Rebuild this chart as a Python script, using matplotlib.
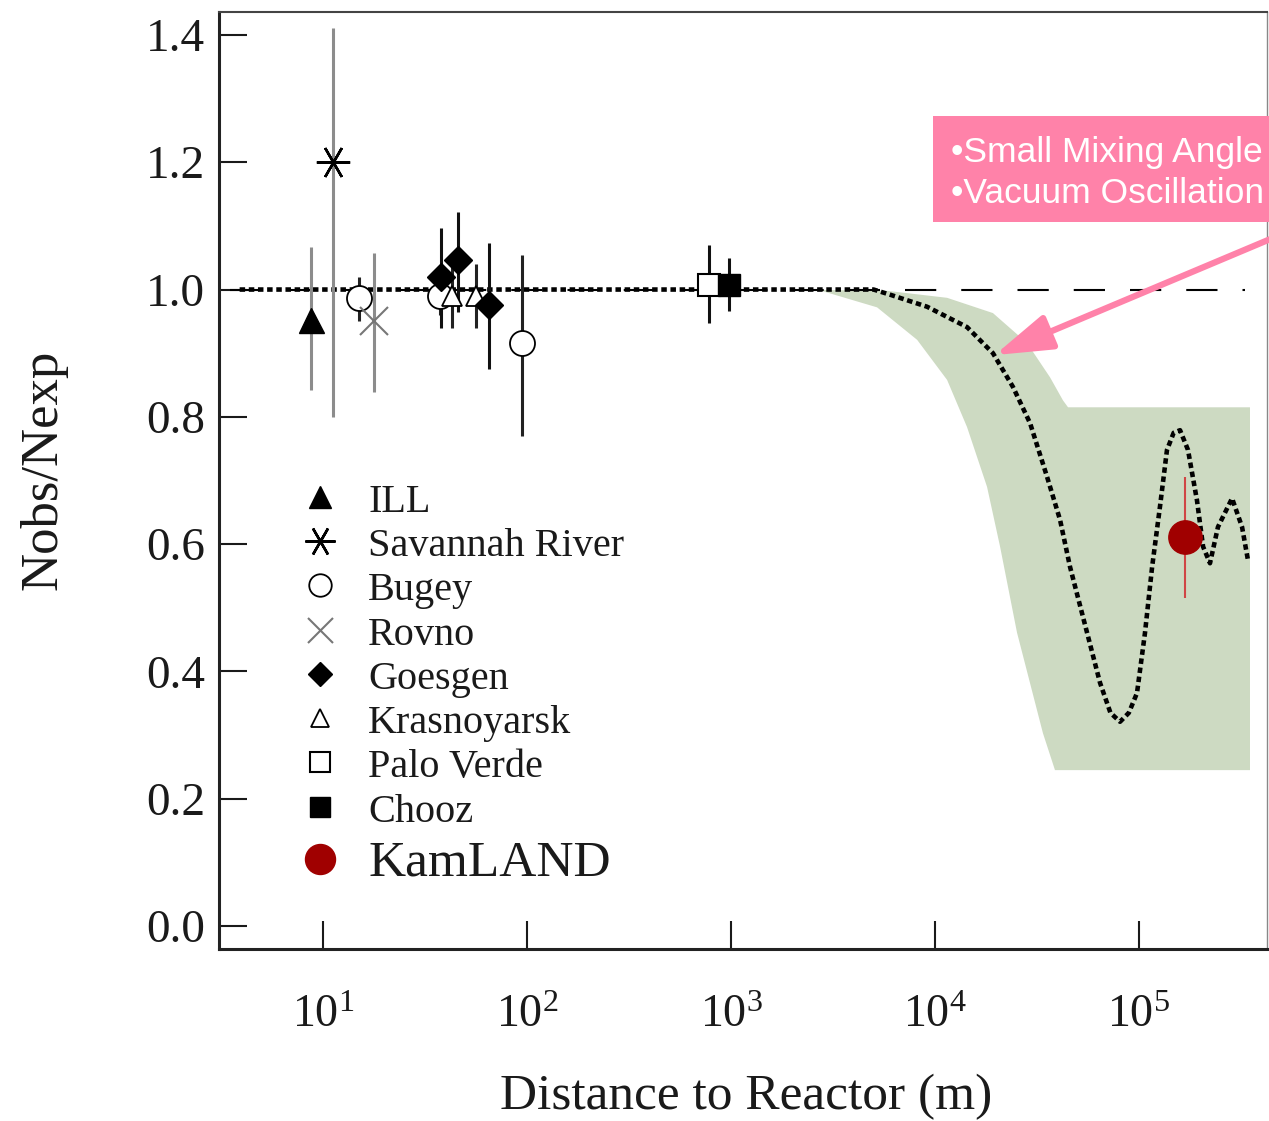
import numpy as np
import matplotlib
matplotlib.use("Agg")
import matplotlib.pyplot as plt
from matplotlib.patches import Rectangle

plt.rcParams["font.family"] = ["Liberation Serif", "DejaVu Serif"]
plt.rcParams["mathtext.fontset"] = "stix"

# reactor experiments: baseline (m), N_obs/N_exp, lower / upper error
pt_exp = ["ILL", "Savannah River", "Bugey", "Rovno", "Bugey", "Goesgen",
          "Krasnoyarsk", "Goesgen", "Krasnoyarsk", "Goesgen", "Bugey",
          "Palo Verde", "Chooz", "KamLAND"]
pt_dist = [8.7, 11.2, 15.0, 17.8, 37.5, 37.9, 42.9, 45.8, 56.0, 65.0, 94.0,
           780.0, 980.0, 168000.0]
pt_ratio = [0.952, 1.20, 0.987, 0.95, 0.99, 1.02, 0.99, 1.047, 0.99, 0.976,
            0.916, 1.007, 1.007, 0.611]
pt_err_lo = [0.110, 0.40, 0.037, 0.111, 0.03, 0.080, 0.05, 0.082, 0.05, 0.101,
             0.146, 0.060, 0.041, 0.096]
pt_err_hi = [0.115, 0.211, 0.033, 0.107, 0.03, 0.077, 0.05, 0.075, 0.05, 0.097,
             0.138, 0.063, 0.043, 0.094]

# oscillation prediction (dotted curve)
curve_dist = [3.9, 5000, 6010, 9140, 14350, 19230, 24100, 29240, 35400,
              41020, 45920, 53090, 64420, 72440, 80720, 89130, 97720,
              106900, 115900, 126800, 137100, 147900, 158900, 173800,
              192300, 206100, 222800, 243800, 285800, 319900, 342000]
curve_ratio = [1.0, 1.0, 0.992, 0.973, 0.941, 0.900, 0.847, 0.790, 0.706,
               0.638, 0.564, 0.486, 0.382, 0.335, 0.321, 0.335, 0.366,
               0.460, 0.564, 0.660, 0.748, 0.775, 0.779, 0.748, 0.669,
               0.596, 0.570, 0.627, 0.672, 0.627, 0.575]

# allowed region (green band)
band_up_dist = [2000, 5820, 11460, 19230, 28250, 36640, 42360, 44870, 349900]
band_up = [1.0, 0.998, 0.987, 0.963, 0.916, 0.862, 0.826, 0.815, 0.815]
band_lo_dist = [2640, 5200, 8170, 11460, 14350, 17990, 20840, 25230, 33810,
                38730, 349900]
band_lo = [1.0, 0.972, 0.921, 0.858, 0.784, 0.690, 0.596, 0.461, 0.303,
           0.245, 0.245]

legend_exp = ["ILL", "Savannah River", "Bugey", "Rovno", "Goesgen",
              "Krasnoyarsk", "Palo Verde", "Chooz", "KamLAND"]

STYLE = {
    "ILL": dict(marker="^", ms=18, mfc="k", mec="k", mew=1, ec="#8c8c8c"),
    "Savannah River": dict(marker=(6, 2, 90), ms=24, mfc="k", mec="k", mew=1.8, ec="#8c8c8c"),
    "Bugey": dict(marker="o", ms=18, mfc="white", mec="k", mew=1.3, ec="#222222"),
    "Rovno": dict(marker="x", ms=20, mfc="#777777", mec="#777777", mew=1.5, ec="#8c8c8c"),
    "Goesgen": dict(marker="D", ms=14, mfc="k", mec="k", mew=1, ec="#111111"),
    "Krasnoyarsk": dict(marker="^", ms=15, mfc="white", mec="k", mew=1.3, ec="#222222"),
    "Palo Verde": dict(marker="s", ms=16, mfc="white", mec="k", mew=1.5, ec="#111111"),
    "Chooz": dict(marker="s", ms=16, mfc="k", mec="k", mew=1, ec="#111111"),
    "KamLAND": dict(marker="o", ms=24, mfc="#a00000", mec="#a00000", mew=1, ec="#d04545"),
}

W, H = 1269, 1121
fig = plt.figure(figsize=(W / 100, H / 100), dpi=100)
ax = fig.add_axes([219 / W, 1 - 949 / H, (1267 - 219) / W, (949 - 12) / H])
ax.set_xscale("log")
ax.set_xlim(3.09, 4.24e5)
ax.set_ylim(-0.036, 1.436)

ax.fill(band_up_dist + band_lo_dist[::-1], band_up + band_lo[::-1],
        color="#cddac2", lw=0, zorder=1)
ax.plot([3.5, 3.3e5], [1.0, 1.0], color="k", lw=1.5, dashes=(15, 12), zorder=2)
ax.plot(curve_dist, curve_ratio, color="k", lw=3.3, dashes=(1.2, 0.8), zorder=3)

for name, d, r, lo, hi in zip(pt_exp, pt_dist, pt_ratio, pt_err_lo, pt_err_hi):
    s = STYLE[name]
    lw = 1.5 if name == "KamLAND" else 2.2
    ax.errorbar([d], [r], yerr=[[lo], [hi]], fmt="none", ecolor=s["ec"],
                elinewidth=lw, capsize=0, zorder=4)
    ax.plot([d], [r], ls="none", marker=s["marker"], ms=s["ms"], mfc=s["mfc"],
            mec=s["mec"], mew=s["mew"], zorder=5)

# legend drawn by hand: marker column + label column
for i, name in enumerate(legend_exp):
    s = STYLE[name]
    y = 0.4824 - 0.0472 * i
    if name == "KamLAND":
        y -= 0.0083
    ax.plot([0.0964], [y], transform=ax.transAxes, ls="none", marker=s["marker"],
            ms=s["ms"] * 0.9, mfc=s["mfc"], mec=s["mec"], mew=s["mew"], zorder=6,
            clip_on=False)
    fs = 37 if name == "KamLAND" else 29
    dy = 0.018 if name == "KamLAND" else 0.016
    ax.text(0.1422, y - dy, name, transform=ax.transAxes, fontsize=fs,
            va="baseline", ha="left", color="#1a1a1a")

ax.set_xticks([10, 100, 1e3, 1e4, 1e5])
ax.set_xticklabels([r"$\mathregular{10^{%d}}$" % k for k in range(1, 6)])
ax.xaxis.set_minor_locator(matplotlib.ticker.NullLocator())
ax.set_yticks(np.arange(0, 1.41, 0.2))
ax.set_yticklabels(["%.1f" % v for v in np.arange(0, 1.41, 0.2)])
ax.tick_params(direction="in", length=20, width=1.5, top=False, right=False,
               labelsize=34, colors="#1a1a1a")
ax.tick_params(axis="y", pad=10)
ax.tick_params(axis="x", pad=33, labelsize=33)

for side in ("left", "bottom"):
    ax.spines[side].set_linewidth(2.2)
    ax.spines[side].set_color("#222222")
ax.spines["top"].set_linewidth(1.5)
ax.spines["top"].set_color("#444444")
ax.spines["right"].set_linewidth(1.0)
ax.spines["right"].set_color("#888888")

ax.set_xlabel("Distance to Reactor (m)", fontsize=37, color="#1a1a1a")
ax.xaxis.set_label_coords(0.503, -0.133)
ax.set_ylabel("Nobs/Nexp", fontsize=38, color="#1a1a1a")
ax.yaxis.set_label_coords(-0.145, 0.511)

# callout box + arrow to the prediction curve
fig.add_artist(Rectangle((933 / W, 1 - 222 / H), 0.3, 106 / H,
                         transform=fig.transFigure, facecolor="#ff82a9",
                         edgecolor="none", zorder=10))
for txt, yb in (("\u2022Small Mixing Angle", 162), ("\u2022Vacuum Oscillation", 203)):
    fig.text(951 / W, 1 - yb / H, txt, fontsize=25.5, color="white",
             family=["Liberation Sans", "DejaVu Sans"], va="baseline",
             ha="left", zorder=11)
ax.annotate("", xy=(19600, 0.897), xycoords="data",
            xytext=(1.003, 1 - 238 / H), textcoords="figure fraction",
            arrowprops=dict(arrowstyle="-|>,head_length=0.7,head_width=0.22",
                            color="#ff82a9", lw=4.5, shrinkA=0, shrinkB=0,
                            mutation_scale=50),
            annotation_clip=False, zorder=9)

fig.savefig("out.png", dpi=100)
